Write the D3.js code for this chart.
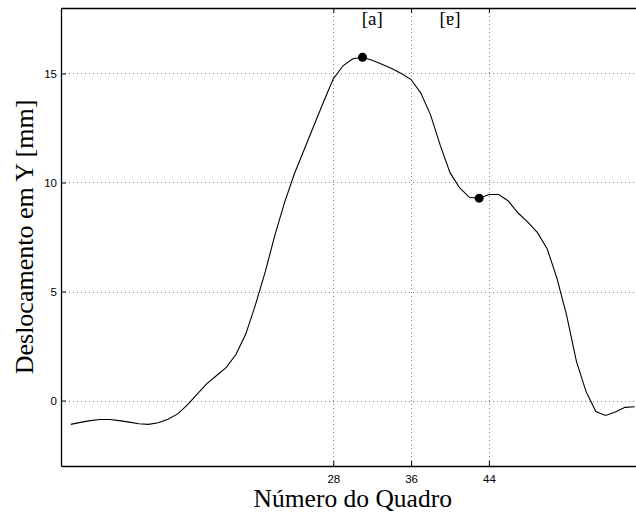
<!DOCTYPE html>
<html>
<head>
<meta charset="utf-8">
<script src="https://cdn.jsdelivr.net/npm/d3@7"></script>
<style>
  html, body { margin: 0; padding: 0; background: #fff; }
  svg { display: block; }
</style>
</head>
<body>
<svg id="chart" width="636" height="516"></svg>
<script>
// ---- data ----
const frames = [1,2,3,4,5,6,7,8,9,10,11,12,13,14,15,16,17,18,19,20,
  21,22,23,24,25,26,27,28,29,30,31,32,33,34,35,36,37,38,39,40,
  41,42,43,44,45,46,47,48,49,50,51,52,53,54,55,56,57,58,59];
const displacementY = [-1.09,-1.0,-0.92,-0.87,-0.87,-0.92,-0.99,-1.06,-1.09,-1.02,
  -0.86,-0.61,-0.2,0.3,0.78,1.15,1.52,2.12,3.05,4.4,
  5.9,7.6,9.1,10.4,11.5,12.6,13.7,14.75,15.35,15.67,
  15.74,15.6,15.42,15.23,15.0,14.72,14.1,13.1,11.7,10.45,
  9.75,9.32,9.28,9.45,9.45,9.15,8.6,8.18,7.7,6.95,
  5.6,3.9,1.8,0.4,-0.5,-0.68,-0.52,-0.31,-0.28];
const markedFrames = [31, 43];
const xTicks = [28, 36, 44];
const yTicks = [0, 5, 10, 15];
const phoneLabels = ["[a]", "[ɐ]"];
const phoneCenters = [32, 40];
const xLabel = "Número do Quadro";
const yLabel = "Deslocamento em Y [mm]";

(function () {
// ---- layout ----
const svg = d3.select("#chart");
const pL = 61, pR = 644.5, pT = 8, pB = 466;
const x = d3.scaleLinear().domain([0, 60]).range([pL, pR]);
const y = d3.scaleLinear().domain([-3, 18]).range([pB, pT]);
const serif = "'Liberation Serif', 'Times New Roman', 'DejaVu Serif', serif";
const sans = "'Liberation Sans', Arial, Helvetica, sans-serif";

// grid
const grid = svg.append("g").attr("stroke", "#808080").attr("stroke-width", 1)
  .attr("stroke-dasharray", "1,3");
grid.selectAll("line.h").data(yTicks).join("line")
  .attr("x1", pL).attr("x2", pR)
  .attr("y1", d => Math.round(y(d)) + 0.5).attr("y2", d => Math.round(y(d)) + 0.5);
grid.selectAll("line.v").data(xTicks).join("line")
  .attr("y1", pT).attr("y2", pB)
  .attr("x1", d => Math.round(x(d)) + 0.5).attr("x2", d => Math.round(x(d)) + 0.5);

// axes
const axB = svg.append("g").attr("transform", `translate(0,${pB})`)
  .call(d3.axisBottom(x).tickValues(xTicks).tickSizeInner(-5).tickSizeOuter(0).tickPadding(9));
const axT = svg.append("g").attr("transform", `translate(0,${pT})`)
  .call(d3.axisTop(x).tickValues(xTicks).tickSizeInner(-5).tickSizeOuter(0).tickFormat(""));
const axL = svg.append("g").attr("transform", `translate(${pL},0)`)
  .call(d3.axisLeft(y).tickValues(yTicks).tickSizeInner(-5).tickSizeOuter(0).tickPadding(4));
[axB, axT, axL].forEach(a => {
  a.selectAll("path.domain").attr("stroke", "#000").attr("stroke-width", 1.3);
  a.selectAll(".tick line").attr("stroke", "#000");
  a.selectAll("text").attr("font-family", sans).attr("font-size", 11.5).attr("fill", "#000");
});

// curve
svg.append("defs").append("clipPath").attr("id", "clip")
  .append("rect").attr("x", pL).attr("y", pT).attr("width", pR - pL).attr("height", pB - pT);
const data = frames.map((f, i) => ({ f, v: displacementY[i] }));
svg.append("path").datum(data)
  .attr("clip-path", "url(#clip)")
  .attr("fill", "none").attr("stroke", "#000").attr("stroke-width", 1.1)
  .attr("d", d3.line().x(d => x(d.f)).y(d => y(d.v)));

// markers
svg.selectAll("circle.mark").data(data.filter(d => markedFrames.includes(d.f))).join("circle")
  .attr("cx", d => x(d.f)).attr("cy", d => y(d.v)).attr("r", 4.5).attr("fill", "#000");

// phone labels
svg.selectAll("text.phone").data(phoneLabels).join("text")
  .attr("x", (d, i) => x(phoneCenters[i])).attr("y", 25)
  .attr("text-anchor", "middle").attr("font-family", serif).attr("font-size", 19)
  .text(d => d);

// axis titles
svg.append("text").attr("x", (pL + pR) / 2).attr("y", 507)
  .attr("text-anchor", "middle").attr("font-family", serif).attr("font-size", 25.5)
  .text(xLabel);
svg.append("text").attr("transform", `translate(33,${(pT + pB) / 2}) rotate(-90)`)
  .attr("text-anchor", "middle").attr("font-family", serif).attr("font-size", 26)
  .text(yLabel);
})();
</script>
</body>
</html>
